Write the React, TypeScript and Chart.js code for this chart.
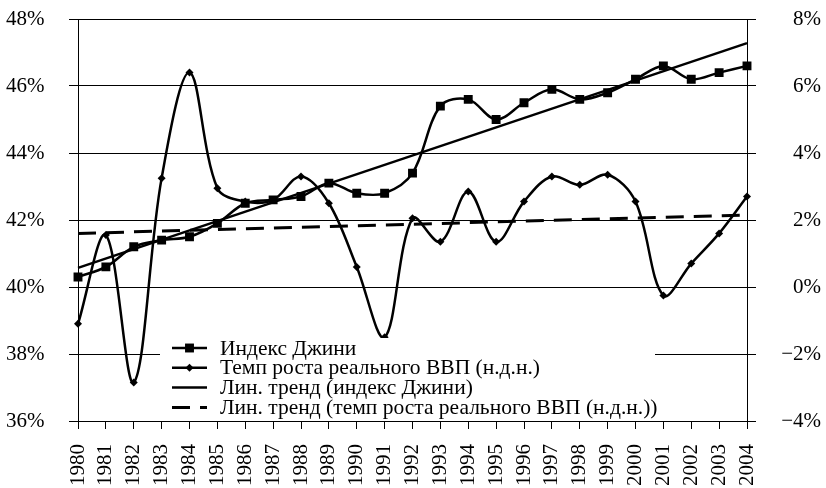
import React, { useEffect, useRef } from 'react';
import { Chart, registerables } from 'chart.js';

Chart.register(...registerables);

const years = [
  '1980', '1981', '1982', '1983', '1984', '1985', '1986', '1987', '1988', '1989',
  '1990', '1991', '1992', '1993', '1994', '1995', '1996', '1997', '1998', '1999',
  '2000', '2001', '2002', '2003', '2004',
];

// Индекс Джини, % (left axis)
const giniIndex = [
  40.3, 40.6, 41.2, 41.4, 41.5, 41.9, 42.5, 42.6, 42.7, 43.1,
  42.8, 42.8, 43.4, 45.4, 45.6, 45.0, 45.5, 45.9, 45.6, 45.8,
  46.2, 46.6, 46.2, 46.4, 46.6,
];

// Темп роста реального ВВП (н.д.н.), % (right axis)
const gdpGrowth = [
  -1.1, 1.55, -2.85, 3.25, 6.4, 2.95, 2.55, 2.6, 3.3, 2.5,
  0.6, -1.5, 2.05, 1.35, 2.85, 1.35, 2.55, 3.3, 3.05, 3.35,
  2.55, -0.25, 0.7, 1.6, 2.7,
];

// Linear trend end values (first year, last year)
const giniTrendEnds = [40.57, 47.28];
const gdpTrendEnds = [1.6, 2.15];

const leftAxisRange = [36, 48];
const rightAxisRange = [-4, 8];
const axisStep = 2;

const legendLabels = [
  'Индекс Джини',
  'Темп роста реального ВВП (н.д.н.)',
  'Лин. тренд (индекс Джини)',
  'Лин. тренд (темп роста реального ВВП (н.д.н.))',
];

const FONT = '"Liberation Serif", "Times New Roman", serif';
const FS = 21;

function endsToSeries(ends: number[], n: number): (number | null)[] {
  const arr: (number | null)[] = new Array(n).fill(null);
  arr[0] = ends[0];
  arr[n - 1] = ends[1];
  return arr;
}

const insideLegend = {
  id: 'insideLegend',
  afterDraw(chart: any) {
    const ctx = chart.ctx as CanvasRenderingContext2D;
    const ca = chart.chartArea;
    const boxX = ca.left + 82;
    const boxY = ca.bottom - 83;
    const boxW = 495;
    const boxH = 81;
    ctx.save();
    ctx.fillStyle = '#ffffff';
    ctx.fillRect(boxX, boxY, boxW, boxH);
    const rowY0 = boxY + 10;
    const rowGap = 19.8;
    const sx0 = boxX + 12;
    const sx1 = boxX + 47;
    const tx = boxX + 60;
    chart.data.datasets.forEach((ds: any, i: number) => {
      const y = rowY0 + i * rowGap;
      ctx.save();
      ctx.strokeStyle = '#000';
      ctx.lineWidth = ds.borderWidth;
      ctx.setLineDash(ds.borderDash || []);
      ctx.beginPath();
      ctx.moveTo(sx0, y);
      ctx.lineTo(sx1, y);
      ctx.stroke();
      ctx.setLineDash([]);
      const cx = (sx0 + sx1) / 2;
      ctx.fillStyle = '#000';
      if (ds.pointStyle === 'rect' && ds.pointRadius > 0) {
        const s = ds.pointRadius * Math.SQRT1_2;
        ctx.fillRect(cx - s, y - s, 2 * s, 2 * s);
      } else if (ds.pointStyle === 'rectRot' && ds.pointRadius > 0) {
        const r = ds.pointRadius;
        ctx.beginPath();
        ctx.moveTo(cx - r, y);
        ctx.lineTo(cx, y - r);
        ctx.lineTo(cx + r, y);
        ctx.lineTo(cx, y + r);
        ctx.closePath();
        ctx.fill();
      }
      ctx.font = `21.5px ${FONT}`;
      ctx.textBaseline = 'middle';
      ctx.textAlign = 'left';
      ctx.fillText(ds.label, tx, y + 1);
      ctx.restore();
    });
    ctx.restore();
  },
};

export default function App() {
  const ref = useRef<HTMLCanvasElement | null>(null);

  useEffect(() => {
    if (!ref.current) return;
    Chart.defaults.font.family = FONT;
    Chart.defaults.font.size = FS;
    Chart.defaults.color = '#000';
    const n = years.length;
    const chart = new Chart(ref.current, {
      type: 'line',
      data: {
        labels: years,
        datasets: [
          {
            label: legendLabels[0],
            data: giniIndex,
            yAxisID: 'y',
            borderColor: '#000',
            backgroundColor: '#000',
            borderWidth: 2.5,
            tension: 0.35,
            pointStyle: 'rect',
            pointRadius: 6.3,
            pointHoverRadius: 6.3,
            pointBorderWidth: 0,
            fill: false,
          },
          {
            label: legendLabels[1],
            data: gdpGrowth,
            yAxisID: 'y1',
            borderColor: '#000',
            backgroundColor: '#000',
            borderWidth: 2.5,
            tension: 0.35,
            pointStyle: 'rectRot',
            pointRadius: 4,
            pointHoverRadius: 4,
            pointBorderWidth: 0,
            fill: false,
          },
          {
            label: legendLabels[2],
            data: endsToSeries(giniTrendEnds, n),
            yAxisID: 'y',
            borderColor: '#000',
            borderWidth: 2.5,
            tension: 0,
            spanGaps: true,
            pointRadius: 0,
            fill: false,
          },
          {
            label: legendLabels[3],
            data: endsToSeries(gdpTrendEnds, n),
            yAxisID: 'y1',
            borderColor: '#000',
            borderWidth: 3,
            borderDash: [18, 10],
            tension: 0,
            spanGaps: true,
            pointRadius: 0,
            fill: false,
          },
        ],
      },
      options: {
        animation: false,
        responsive: false,
        maintainAspectRatio: false,
        layout: { padding: { top: 19, right: 5, left: 6, bottom: 0 } },
        plugins: {
          legend: { display: false },
          tooltip: { enabled: false },
        },
        scales: {
          x: {
            type: 'category',
            offset: false,
            grid: {
              display: true,
              drawOnChartArea: false,
              drawTicks: true,
              tickLength: 8,
              color: '#000',
              lineWidth: 1,
            },
            border: { display: true, color: '#000', width: 1 },
            ticks: {
              autoSkip: false,
              minRotation: 90,
              maxRotation: 90,
              padding: 15,
              font: { size: FS, family: FONT },
              color: '#000',
            },
            afterFit(scale: any) {
              scale.height = 67;
            },
          },
          y: {
            position: 'left',
            min: leftAxisRange[0],
            max: leftAxisRange[1],
            grid: {
              color: '#000',
              lineWidth: 1,
              drawTicks: true,
              tickLength: 9,
            },
            border: { display: true, color: '#000', width: 1 },
            ticks: {
              stepSize: axisStep,
              crossAlign: 'far',
              padding: 0,
              font: { size: FS, family: FONT },
              color: '#000',
              callback: (v: any) => `${v}%`,
            },
            afterFit(scale: any) {
              scale.width = 72;
            },
          },
          y1: {
            position: 'right',
            min: rightAxisRange[0],
            max: rightAxisRange[1],
            grid: {
              drawOnChartArea: false,
              color: '#000',
              lineWidth: 1,
              drawTicks: true,
              tickLength: 9,
            },
            border: { display: true, color: '#000', width: 1 },
            ticks: {
              stepSize: axisStep,
              crossAlign: 'far',
              padding: 0,
              font: { size: FS, family: FONT },
              color: '#000',
              callback: (v: any) => (v < 0 ? `\u2212${Math.abs(v)}%` : `${v}%`),
            },
            afterFit(scale: any) {
              scale.width = 74;
            },
          },
        },
      },
      plugins: [insideLegend],
    } as any);
    return () => chart.destroy();
  }, []);

  return (
    <div style={{ position: 'absolute', left: 0, top: 0, width: 826, height: 488, background: '#fff' }}>
      <canvas ref={ref} width={826} height={488} style={{ width: 826, height: 488, display: 'block' }} />
    </div>
  );
}
